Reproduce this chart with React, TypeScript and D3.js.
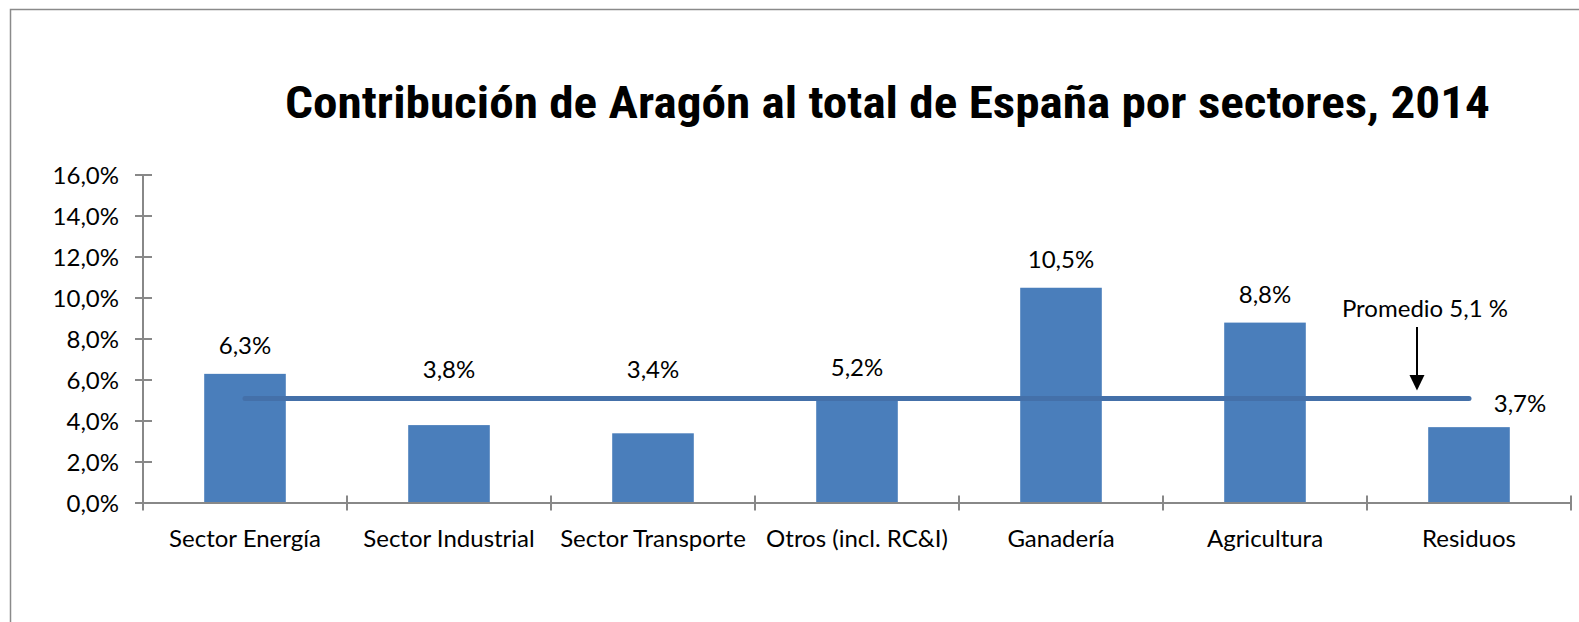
import React, { useRef, useEffect } from "react";
import * as d3 from "d3";

const categories = [
  "Sector Energía",
  "Sector Industrial",
  "Sector Transporte",
  "Otros (incl. RC&I)",
  "Ganadería",
  "Agricultura",
  "Residuos",
];
const shares = [6.3, 3.8, 3.4, 5.2, 10.5, 8.8, 3.7];
const average = 5.1;
const yTicks = [0, 2, 4, 6, 8, 10, 12, 14, 16];
const title = "Contribución de Aragón al total de España por sectores, 2014";
const averageLabel = "Promedio 5,1 %";

const W = 1579;
const H = 622;
const FONT = "Lato, 'Open Sans', sans-serif";

const fmt = (v: number, digits: number) => v.toFixed(digits).replace(".", ",") + "%";

const App: React.FC = () => {
  const svgRef = useRef<SVGSVGElement>(null);

  useEffect(() => {
    if (!svgRef.current) return;
    const svg = d3.select(svgRef.current);
    svg.selectAll("*").remove();

    // outer frame (cut off at right/bottom like the original)
    svg
      .append("rect")
      .attr("x", 10.5)
      .attr("y", 9.5)
      .attr("width", 1700)
      .attr("height", 800)
      .attr("fill", "white")
      .attr("stroke", "#8a8a8a")
      .attr("stroke-width", 1.5);

    svg
      .append("text")
      .attr("x", 285)
      .attr("y", 118)
      .attr("font-family", "'Liberation Sans Narrow', 'Roboto Condensed', Roboto, sans-serif")
      .attr("font-weight", "bold")
      .attr("font-size", 44)
      .attr("textLength", 1205)
      .attr("lengthAdjust", "spacingAndGlyphs")
      .attr("fill", "#000")
      .text(title);

    const x = d3.scaleBand<string>().domain(categories).range([143, 1571]).padding(0);
    const y = d3.scaleLinear().domain([0, 16]).range([503, 175]);
    const bw = x.bandwidth() * 0.4;
    const cx = (c: string) => (x(c) ?? 0) + x.bandwidth() / 2;

    const axisColor = "#888888";

    // bars
    svg
      .append("g")
      .selectAll("rect")
      .data(shares)
      .join("rect")
      .attr("x", (_, i) => cx(categories[i]) - bw / 2)
      .attr("y", (d) => y(d))
      .attr("width", bw)
      .attr("height", (d) => y(0) - y(d))
      .attr("fill", "#4a7ebb");

    // y axis
    const ya = svg.append("g").attr("font-family", FONT).attr("font-size", 24);
    ya.append("line")
      .attr("x1", 143)
      .attr("x2", 143)
      .attr("y1", y(16))
      .attr("y2", y(0) + 7)
      .attr("stroke", axisColor)
      .attr("stroke-width", 2);
    yTicks.forEach((t) => {
      ya.append("line")
        .attr("x1", 135)
        .attr("x2", 152)
        .attr("y1", y(t))
        .attr("y2", y(t))
        .attr("stroke", axisColor)
        .attr("stroke-width", 2);
      ya.append("text")
        .attr("x", 119)
        .attr("y", y(t) + 8.5)
        .attr("text-anchor", "end")
        .attr("fill", "#000")
        .text(fmt(t, 1));
    });

    // x axis
    const xa = svg.append("g").attr("font-family", FONT).attr("font-size", 24);
    xa.append("line")
      .attr("x1", 135)
      .attr("x2", 1571)
      .attr("y1", y(0))
      .attr("y2", y(0))
      .attr("stroke", axisColor)
      .attr("stroke-width", 2);
    [...categories.map((c) => x(c) ?? 0), 1571].forEach((tx) => {
      xa.append("line")
        .attr("x1", tx)
        .attr("x2", tx)
        .attr("y1", y(0) - 7.5)
        .attr("y2", y(0) + 7.5)
        .attr("stroke", axisColor)
        .attr("stroke-width", 2);
    });
    categories.forEach((c) => {
      xa.append("text")
        .attr("x", cx(c))
        .attr("y", 547)
        .attr("text-anchor", "middle")
        .attr("fill", "#000")
        .text(c);
    });

    // average line
    const line = d3
      .line<string>()
      .x((c) => cx(c))
      .y(() => y(average));
    svg
      .append("path")
      .datum(categories)
      .attr("d", line)
      .attr("fill", "none")
      .attr("stroke", "#4470a9")
      .attr("stroke-width", 5)
      .attr("stroke-linecap", "round");

    // data labels (the last one was moved by hand in the original)
    const nudges = [0, 0, 0, 0, 0, 0, 1];
    svg
      .append("g")
      .attr("font-family", FONT)
      .attr("font-size", 24)
      .selectAll("text")
      .data(shares)
      .join("text")
      .attr("x", (_, i) => cx(categories[i]) + nudges[i] * 51)
      .attr("y", (d, i) =>
        nudges[i] ? y(d) - 15 : Math.min(y(d), y(average)) - 20
      )
      .attr("text-anchor", "middle")
      .attr("fill", "#000")
      .text((d) => fmt(d, 1));

    // annotation arrow
    const ax = (x("Residuos") ?? 0) + x.bandwidth() * 0.245;
    const ann = svg.append("g");
    ann
      .append("text")
      .attr("x", ax + 8)
      .attr("y", 317)
      .attr("text-anchor", "middle")
      .attr("font-family", FONT)
      .attr("font-size", 24)
      .attr("fill", "#000")
      .text(averageLabel);
    ann
      .append("line")
      .attr("x1", ax)
      .attr("x2", ax)
      .attr("y1", 327)
      .attr("y2", 378)
      .attr("stroke", "#000")
      .attr("stroke-width", 2);
    ann
      .append("path")
      .attr(
        "d",
        `M${ax - 7.5},${375} L${ax + 7.5},${375} L${ax},${y(average) - 8} Z`
      )
      .attr("fill", "#000");
  }, []);

  return (
    <svg
      ref={svgRef}
      width={W}
      height={H}
      style={{ position: "absolute", left: 0, top: 0, background: "white" }}
    />
  );
};

export default App;
